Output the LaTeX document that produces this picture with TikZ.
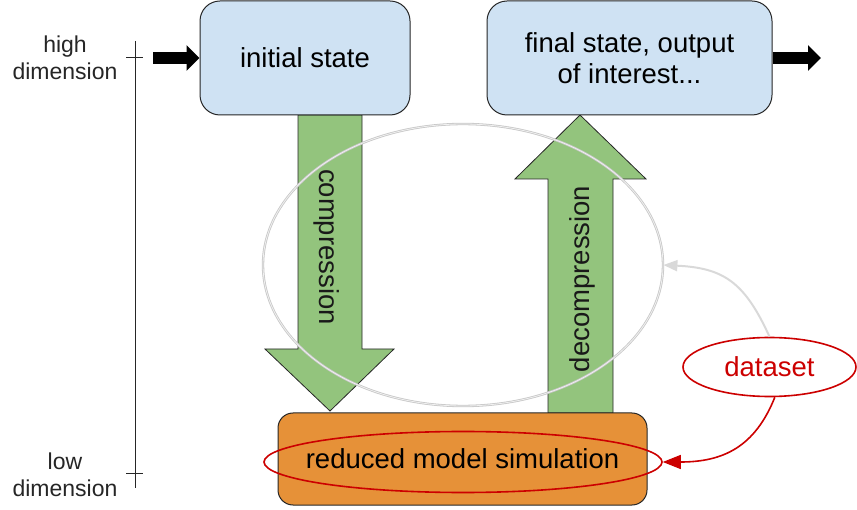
\documentclass[tikz,border=0pt]{standalone}
\usepackage{fontspec}
\setmainfont{Liberation Sans}
\usetikzlibrary{shapes.geometric,arrows.meta}
\definecolor{lblue}{HTML}{CFE2F3}
\definecolor{lgreen}{HTML}{93C47D}
\definecolor{lorange}{HTML}{E69138}
\definecolor{dred}{HTML}{CC0000}
\begin{document}
\begin{tikzpicture}[x=1pt,y=-1pt,
  box/.style={draw=black!85, line width=1pt, rounded corners=20pt, inner sep=0pt, align=center, font=\fontsize{27.5}{31}\selectfont},
  garrow/.style={draw=black!85, fill=lgreen, line width=0.8pt, line join=miter},
  glabel/.style={font=\fontsize{27.5}{31}\selectfont, text=black!90, inner sep=0pt},
  side/.style={align=center, font=\fontsize{23}{27}\selectfont, text=black!85},
  redring/.style={ellipse, draw=dred, line width=1.6pt, inner sep=0pt},
  thick arrow/.style={line width=12pt, -{Triangle[length=13pt,width=25pt]}},
  axis/.style={line width=1pt, black!85}
]
\useasboundingbox (0,0) rectangle (857,510);

% green arrows
\draw[garrow] (298,115) -- (362,115) -- (362,349) -- (394,349) -- (330,411) -- (265,349) -- (298,349) -- cycle;
\draw[garrow] (548,413) -- (613,413) -- (613,179) -- (646,179) -- (580,115) -- (515,179) -- (548,179) -- cycle;

% boxes
\node[box, fill=lblue, minimum width=210pt, minimum height=114pt] (init) at (305,58) {initial state};
\node[box, fill=lblue, minimum width=285pt, minimum height=114pt] (final) at (629.5,58) {final state, output\\of interest...};
\node[box, fill=lorange, rounded corners=15pt, minimum width=369pt, minimum height=92pt] (sim) at (462.5,459) {reduced model simulation};

% gray loop ellipse
\node[ellipse, minimum width=400pt, minimum height=282pt, inner sep=0pt, draw=black!22, double=black!6, line width=0.8pt, double distance=0.8pt] (loop) at (463,265) {};

% arrow labels
\node[glabel, rotate=-90] (comp) at (327,247) {compression};
\node[glabel, rotate=90] (decomp) at (582,279) {decompression};

% red ellipses
\node[redring, minimum width=398pt, minimum height=61pt] (redell) at (463,462) {};
\node[redring, text=dred, minimum width=173pt, minimum height=59pt, font=\fontsize{27.5}{31}\selectfont] (data) at (769.5,367) {dataset};

% connectors from dataset
\draw[dred, line width=1.6pt, -{Triangle[length=18pt,width=14pt]}] (data.-80) .. controls +(-20,50) and +(60,0) .. (redell.east);
\draw[black!15, line width=2pt, -{Triangle[length=14pt,width=11pt]}] (data.north) .. controls +(-25,-55) and +(60,3) .. (loop.east);

% black in/out arrows
\coordinate (inL) at (153,58);
\coordinate (outR) at (821,58);
\draw[thick arrow] (inL) -- (init.west);
\draw[thick arrow] (final.east) -- (outR);

% dimension axis
\coordinate (axtop) at (135.5,41);
\coordinate (axbot) at (135.5,488);
\coordinate (thiL) at (126,58);
\coordinate (thiR) at (143,58);
\coordinate (tloL) at (126,473);
\coordinate (tloR) at (143,473);
\draw[axis] (axtop) -- (axbot);
\draw[axis] (thiL) -- (thiR);
\draw[axis] (tloL) -- (tloR);
\node[side] (hi) at (65,58) {high\\dimension};
\node[side] (lo) at (65,475) {low\\dimension};
\end{tikzpicture}
\end{document}
